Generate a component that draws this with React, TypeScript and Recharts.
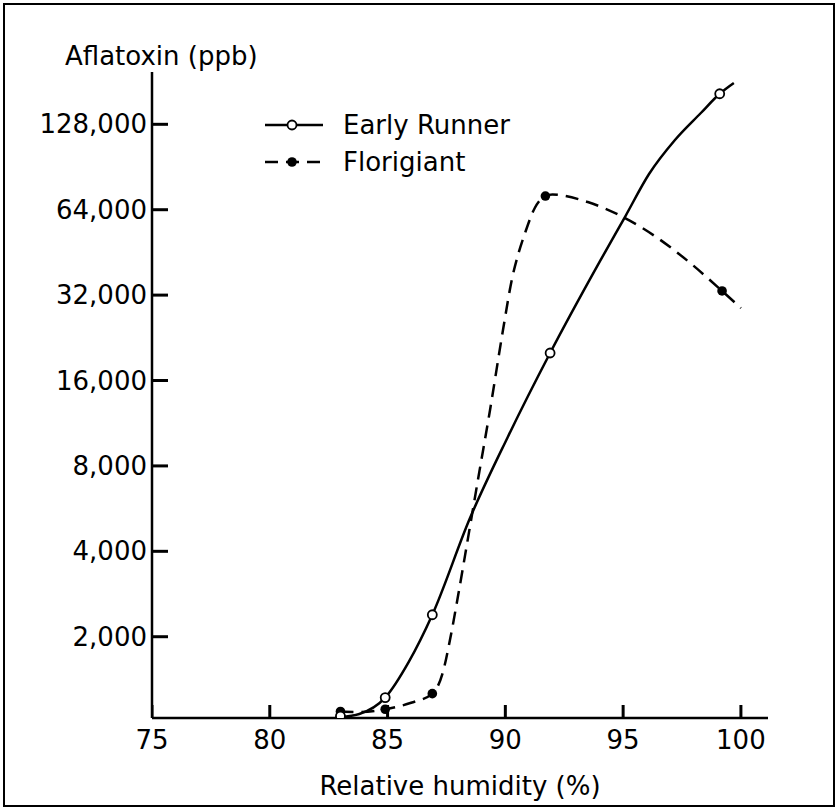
import { ComposedChart, Line, Scatter, XAxis, YAxis } from 'recharts';

// relative humidity (%) ticks and aflatoxin (ppb) ticks on a log2 axis
const humidityTicks = [75, 80, 85, 90, 95, 100];
const aflatoxinTicks = [2000, 4000, 8000, 16000, 32000, 64000, 128000];

// measured points
const earlyRunnerRH = [83, 84.9, 86.9, 91.9, 99.1];
const earlyRunnerPpb = [1050, 1220, 2390, 20000, 164000];
const florigiantRH = [83, 84.9, 86.9, 91.7, 99.2];
const florigiantPpb = [1090, 1110, 1260, 71500, 33100];

// hand-drawn fitted curves
const earlyRunnerCurveRH = [83, 83.8, 84.9, 85.9, 86.9, 88.5, 90.1, 91.9, 94, 95.1, 96.1, 97.2, 98.3, 99.1, 99.7];
const earlyRunnerCurvePpb = [1042, 1068, 1220, 1630, 2390, 5240, 10100, 20000, 41900, 60800, 85500, 112700, 140300, 164000, 179000];
const florigiantCurveRH = [83, 83.8, 84.9, 86, 86.9, 87.35, 87.65, 88, 88.4, 88.85, 89.35, 89.9, 90.3, 90.55, 90.85, 91.25, 91.7, 92, 93.5, 95, 96.4, 97.7, 99.2, 100];
const florigiantCurvePpb = [1090, 1086, 1110, 1170, 1260, 1500, 1950, 2810, 4380, 7250, 12600, 24100, 37100, 44700, 53400, 64900, 71500, 72400, 68100, 60300, 51300, 42500, 33100, 28800];

const zip = (xs: number[], ys: number[]) => xs.map((x, i) => ({ x, y: ys[i] }));

const earlyRunnerPoints = zip(earlyRunnerRH, earlyRunnerPpb);
const florigiantPoints = zip(florigiantRH, florigiantPpb);
const earlyRunnerCurve = zip(earlyRunnerCurveRH, earlyRunnerCurvePpb);
const florigiantCurve = zip(florigiantCurveRH, florigiantCurvePpb);

const FONT = '"DejaVu Sans", sans-serif';
const DASH = '13 8';

const X_DOMAIN = [75, 101.15];
const Y_DOMAIN = [1034, 195700];

// inward tick marks sit on the axes, placed through the chart's scales
const yTickMarks = aflatoxinTicks.map((v) => ({ x: X_DOMAIN[0], y: v }));
const xTickMarks = humidityTicks.map((h) => ({ x: h, y: Y_DOMAIN[0] }));

function XTick({ x, y, payload }: any) {
  return (
    <text x={x} y={y + 31} textAnchor="middle" fontFamily={FONT} fontSize={26} fill="#000">
      {payload.value}
    </text>
  );
}

function YTick({ x, y, payload }: any) {
  return (
    <text x={x - 5} y={y + 9} textAnchor="end" fontFamily={FONT} fontSize={26} fill="#000">
      {payload.value.toLocaleString('en-US')}
    </text>
  );
}

function YTickMark(props: any) {
  const { cx, cy } = props;
  return <path d={`M${cx},${cy}h16`} stroke="#000" strokeWidth={3} fill="none" />;
}

function XTickMark(props: any) {
  const { cx, cy } = props;
  return <path d={`M${cx},${cy}v-13`} stroke="#000" strokeWidth={3} fill="none" />;
}

function OpenDot({ cx, cy }: any) {
  return <circle cx={cx} cy={cy} r={4.5} fill="#fff" stroke="#000" strokeWidth={1.8} />;
}

function FilledDot({ cx, cy }: any) {
  return <circle cx={cx} cy={cy} r={4.8} fill="#000" />;
}

export default function App() {
  return (
    <div style={{ position: 'absolute', left: 0, top: 0, width: 837, height: 809, background: '#fff' }}>
      <div
        style={{
          position: 'absolute',
          left: 3,
          top: 3,
          width: 828,
          height: 800,
          border: '2px solid #000',
        }}
      />
      <ComposedChart width={837} height={809} margin={{ top: 72, right: 69, bottom: 0, left: 0 }}>
        <XAxis
          dataKey="x"
          type="number"
          domain={X_DOMAIN}
          ticks={humidityTicks}
          interval={0}
          allowDataOverflow
          height={91}
          tickSize={0}
          tickMargin={0}
          tick={<XTick />}
          tickLine={false}
          axisLine={{ stroke: '#000', strokeWidth: 2.5 }}
        />
        <YAxis
          dataKey="y"
          type="number"
          scale="log"
          domain={Y_DOMAIN}
          ticks={aflatoxinTicks}
          interval={0}
          allowDataOverflow
          width={152}
          tickSize={0}
          tickMargin={0}
          tick={<YTick />}
          tickLine={false}
          axisLine={{ stroke: '#000', strokeWidth: 2.5 }}
        />
        <Line
          data={earlyRunnerCurve}
          dataKey="y"
          type="monotone"
          stroke="#000"
          strokeWidth={2.5}
          dot={false}
          activeDot={false}
          isAnimationActive={false}
        />
        <Line
          data={florigiantCurve}
          dataKey="y"
          type="monotone"
          stroke="#000"
          strokeWidth={2.5}
          strokeDasharray={DASH}
          dot={false}
          activeDot={false}
          isAnimationActive={false}
        />
        <Scatter data={florigiantPoints} dataKey="y" shape={<FilledDot />} isAnimationActive={false} />
        <Scatter data={earlyRunnerPoints} dataKey="y" shape={<OpenDot />} isAnimationActive={false} />
        <Scatter data={yTickMarks} dataKey="y" shape={<YTickMark />} isAnimationActive={false} />
        <Scatter data={xTickMarks} dataKey="y" shape={<XTickMark />} isAnimationActive={false} />
      </ComposedChart>
      <svg
        width={837}
        height={809}
        style={{ position: 'absolute', left: 0, top: 0, pointerEvents: 'none' }}
      >
        <text x={65} y={65} fontFamily={FONT} fontSize={26} fill="#000">
          Aflatoxin (ppb)
        </text>
        <text x={460} y={795} textAnchor="middle" fontFamily={FONT} fontSize={26} fill="#000">
          Relative humidity (%)
        </text>
        <line x1={265} x2={323} y1={125} y2={125} stroke="#000" strokeWidth={2.5} />
        <circle cx={292} cy={125} r={4.5} fill="#fff" stroke="#000" strokeWidth={1.8} />
        <text x={343} y={134} fontFamily={FONT} fontSize={26} fill="#000">
          Early Runner
        </text>
        <line x1={265} x2={323} y1={162} y2={162} stroke="#000" strokeWidth={2.5} strokeDasharray={DASH} />
        <circle cx={292} cy={162} r={4.8} fill="#000" />
        <text x={343} y={171} fontFamily={FONT} fontSize={26} fill="#000">
          Florigiant
        </text>
      </svg>
    </div>
  );
}
